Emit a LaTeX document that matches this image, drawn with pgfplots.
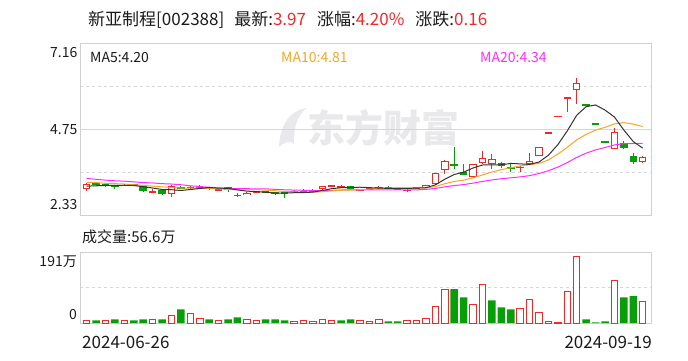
\documentclass[border=0pt]{standalone}
\usepackage{pgfplots}
\pgfplotsset{compat=1.18}
\usepackage{pgfplotstable}
\usepackage{fontspec}
\setmainfont{Noto Sans CJK SC}
\definecolor{kred}{HTML}{F02828}
\definecolor{kgreen}{HTML}{079E07}
\definecolor{ma5c}{HTML}{333333}
\definecolor{ma10c}{HTML}{F5A623}
\definecolor{ma20c}{HTML}{FF2CFF}
\definecolor{gridc}{HTML}{D6D6D6}
\definecolor{framec}{HTML}{CFCFD4}
\definecolor{txt}{HTML}{1A1A1A}
\definecolor{wm}{HTML}{E9E9EC}

\pgfplotstableread{
x o h l c
0 3.06 3.22 2.99 3.21
4 3.17 3.19 3.15 3.18
7 2.97 3.05 2.94 2.99
9 2.92 3.16 2.84 3.15
11 3.08 3.14 3.07 3.12
12 3.11 3.17 3.10 3.13
14 3.04 3.07 3.03 3.06
16 2.88 2.95 2.84 2.90
17 2.89 2.97 2.88 2.96
18 2.97 3.01 2.95 2.99
22 2.99 3.02 2.98 3.01
23 3.00 3.05 2.96 3.01
24 3.00 3.05 2.97 3.02
25 3.05 3.15 3.04 3.14
26 3.16 3.17 3.12 3.17
27 3.13 3.17 3.12 3.14
29 3.04 3.06 3.03 3.05
30 3.07 3.12 3.05 3.08
31 3.10 3.14 3.05 3.11
34 3.03 3.05 2.98 3.04
35 3.10 3.12 3.09 3.11
36 3.11 3.18 3.10 3.17
37 3.19 3.51 3.18 3.50
38 3.59 3.87 3.47 3.86
41 3.39 3.76 3.38 3.75
42 3.78 4.14 3.76 3.92
43 3.76 4.04 3.61 3.89
46 3.67 3.70 3.53 3.69
47 3.76 4.06 3.75 3.84
48 3.99 4.24 3.98 4.23
49 4.65 4.65 4.65 4.65
50 5.12 5.12 5.12 5.12
51 5.58 5.63 5.23 5.63
52 5.84 6.19 5.44 6.03
56 4.18 4.78 4.17 4.66
59 3.82 3.98 3.78 3.97
}\redk

\pgfplotstableread{
x o h l c
1 3.21 3.24 3.14 3.15
2 3.18 3.23 3.13 3.17
3 3.17 3.18 3.05 3.12
5 3.19 3.21 3.15 3.17
6 3.14 3.15 2.97 2.98
8 3.03 3.04 2.90 2.91
10 3.12 3.14 3.05 3.06
13 3.11 3.12 3.04 3.05
15 3.11 3.12 2.98 3.03
19 2.98 3.00 2.95 2.96
20 2.96 2.97 2.90 2.91
21 2.96 2.97 2.82 2.91
28 3.14 3.15 3.04 3.05
32 3.11 3.14 3.09 3.10
33 3.07 3.08 3.05 3.06
39 3.76 4.23 3.62 3.69
40 3.54 3.76 3.44 3.45
44 3.78 3.83 3.66 3.69
45 3.66 3.75 3.53 3.64
53 5.43 5.43 5.43 5.43
54 4.89 4.89 4.89 4.89
55 4.40 4.40 4.40 4.40
57 4.34 4.42 4.19 4.20
58 3.97 4.06 3.77 3.81
}\greenk

\pgfplotstableread{
x ma5 ma10 ma20
0 3.140 3.250 3.360
1 3.150 3.240 3.330
2 3.160 3.220 3.310
3 3.160 3.210 3.290
4 3.166 3.200 3.280
5 3.158 3.180 3.260
6 3.124 3.160 3.240
7 3.088 3.140 3.230
8 3.046 3.120 3.210
9 3.040 3.103 3.200
10 3.018 3.088 3.180
11 3.046 3.085 3.150
12 3.074 3.081 3.130
13 3.102 3.074 3.110
14 3.084 3.062 3.090
15 3.078 3.048 3.080
16 3.034 3.040 3.070
17 3.000 3.037 3.070
18 2.988 3.045 3.060
19 2.968 3.026 3.065
20 2.944 3.011 3.050
21 2.946 2.990 3.038
22 2.956 2.978 3.030
23 2.960 2.974 3.024
24 2.972 2.970 3.016
25 3.018 2.981 3.015
26 3.070 3.008 3.024
27 3.096 3.026 3.032
28 3.104 3.032 3.039
29 3.110 3.041 3.034
30 3.098 3.058 3.035
31 3.086 3.078 3.034
32 3.078 3.087 3.033
33 3.080 3.092 3.033
34 3.078 3.094 3.032
35 3.084 3.091 3.036
36 3.096 3.091 3.050
37 3.176 3.127 3.077
38 3.336 3.208 3.120
39 3.466 3.272 3.157
40 3.534 3.309 3.184
41 3.650 3.373 3.226
42 3.734 3.455 3.271
43 3.740 3.538 3.315
44 3.740 3.603 3.349
45 3.778 3.656 3.374
46 3.766 3.708 3.400
47 3.750 3.742 3.435
48 3.818 3.779 3.494
49 4.010 3.875 3.574
50 4.306 4.042 3.676
51 4.694 4.230 3.802
52 5.132 4.441 3.948
53 5.372 4.595 4.067
54 5.420 4.715 4.159
55 5.276 4.791 4.224
56 5.082 4.888 4.298
57 4.716 4.924 4.333
58 4.392 4.882 4.331
59 4.208 4.814 4.345
}\mas

\pgfplotstableread{
x v
0 7
2 7
4 7
7 10
9 20
11 26
12 12
14 7
17 10
18 7
22 4
23 7
24 4
25 10
26 7
29 7
30 4
31 9
34 6
35 6
36 12
37 44
38 90
41 49
42 104
46 39
47 63
48 29
49 4.5
50 2
51 85
52 179
56 115
59 56.6
}\volred

\pgfplotstableread{
x v
1 7
3 10
5 7
6 10
8 10
10 37
13 10
15 10
16 15
19 10
20 10
21 7
27 7
28 10
32 4.5
33 4.5
39 91
40 69
43 61
44 42
45 37
53 10
54 2
55 4.5
57 69
58 72
}\volgreen

\pgfplotsset{
  candle/.style={only marks, mark=none, mark size=0pt, mark options={draw=none, fill=none},
    error bars/.cd, y dir=minus, y explicit, error mark=none},
}

\begin{document}
\begin{tikzpicture}
\useasboundingbox (0,0) rectangle (688pt,360pt);
% watermark (logo mark + name)
\fill[wm] (279pt,213pt) .. controls (280pt,236pt) and (290pt,249pt) .. (306pt,252pt)
  .. controls (297pt,243pt) and (293pt,231pt) .. (294pt,216pt)
  .. controls (290pt,220pt) and (285pt,218pt) .. cycle;
\node[anchor=center, text=wm, font=\fontsize{38}{38}\selectfont\bfseries] at (383pt,232pt) {东方财富};

\begin{axis}[
  at={(80pt,145pt)}, anchor=south west,
  width=571pt, height=172pt, scale only axis,
  xmin=-0.71, xmax=59.88, ymin=2.33, ymax=7.16,
  axis line style={framec},
  xtick=\empty,
  ytick={3.5375,5.9525}, yticklabels={},
  extra y ticks={4.745}, extra y tick labels={},
  extra y tick style={grid style={solid, gridc, line width=1pt}},
  ymajorgrids, grid style={dashed, gridc, line width=0.8pt},
  major tick length=0pt,
]
% red wicks
\addplot[candle, error bar style={kred, line width=1pt}]
  table[x=x, y=h, y error expr=\thisrow{h}-\thisrow{l}] {\redk};
% red bodies (outer)
\addplot[candle, error bar style={kred, line width=7.5pt}]
  table[x=x, y=c, y error expr={max(\thisrow{c}-\thisrow{o},0.045)}] {\redk};
% red bodies (hollow inside)
\addplot[candle, error bar style={white, line width=5.5pt}]
  table[x=x, y expr=\thisrow{c}-0.028, y error expr={max(\thisrow{c}-\thisrow{o}-0.056,0)}] {\redk};
% green wicks
\addplot[candle, error bar style={kgreen, line width=1pt}]
  table[x=x, y=h, y error expr=\thisrow{h}-\thisrow{l}] {\greenk};
% green bodies
\addplot[candle, error bar style={kgreen, line width=7.5pt}]
  table[x=x, y expr=\thisrow{o}+0.01, y error expr={max(\thisrow{o}-\thisrow{c},0.045)}] {\greenk};
% moving averages
\addplot[ma20c, line width=1pt, mark=none] table[x=x, y=ma20] {\mas};
\addplot[ma10c, line width=1pt, mark=none] table[x=x, y=ma10] {\mas};
\addplot[ma5c, line width=1pt, mark=none] table[x=x, y=ma5] {\mas};
\end{axis}

\begin{axis}[
  at={(80pt,37pt)}, anchor=south west,
  width=571pt, height=71pt, scale only axis,
  xmin=-0.71, xmax=59.88, ymin=0, ymax=191,
  axis line style={framec},
  xtick=\empty,
  ytick={95.5}, yticklabels={},
  ymajorgrids, grid style={dashed, gridc, line width=0.8pt},
  major tick length=0pt,
]
\addplot[ybar, bar width=6.5pt, bar shift=0pt, draw=kred, fill=white, line width=1pt] table[x=x, y=v] {\volred};
\addplot[ybar, bar width=7.5pt, bar shift=0pt, draw=none, fill=kgreen] table[x=x, y=v] {\volgreen};
\end{axis}

% title
\node[anchor=west, text=txt, font=\fontsize{17}{17}\selectfont, inner sep=0pt] at (88pt,340pt)
  {新亚制程[002388]\hspace{10pt}最新:\textcolor{kred}{3.97}\hspace{11pt}涨幅:\textcolor{kred}{4.20\%}\hspace{11pt}涨跌:\textcolor{kred}{0.16}};
% MA legend
\node[anchor=west, text=txt, font=\fontsize{14}{14}\selectfont, inner sep=0pt] at (90pt,303pt) {MA5:4.20};
\node[anchor=west, text=ma10c, font=\fontsize{14}{14}\selectfont, inner sep=0pt] at (281pt,303pt) {MA10:4.81};
\node[anchor=west, text=ma20c, font=\fontsize{14}{14}\selectfont, inner sep=0pt] at (480pt,303pt) {MA20:4.34};
% y labels main
\node[anchor=east, text=txt, font=\fontsize{14}{14}\selectfont, inner sep=0pt] at (77.5pt,307pt) {7.16};
\node[anchor=east, text=txt, font=\fontsize{14}{14}\selectfont, inner sep=0pt] at (77.5pt,230.7pt) {4.75};
\node[anchor=east, text=txt, font=\fontsize{14}{14}\selectfont, inner sep=0pt] at (77.5pt,155pt) {2.33};
% volume caption and labels
\node[anchor=west, text=txt, font=\fontsize{15}{15}\selectfont, inner sep=0pt] at (82pt,123pt) {成交量:56.6万};
\node[anchor=east, text=txt, font=\fontsize{14}{14}\selectfont, inner sep=0pt] at (77pt,98.3pt) {191万};
\node[anchor=east, text=txt, font=\fontsize{14}{14}\selectfont, inner sep=0pt] at (77pt,45pt) {0};
% dates
\node[anchor=west, text=txt, font=\fontsize{17}{17}\selectfont, inner sep=0pt] at (82pt,18pt) {2024-06-26};
\node[anchor=east, text=txt, font=\fontsize{17}{17}\selectfont, inner sep=0pt] at (652pt,18pt) {2024-09-19};
\end{tikzpicture}
\end{document}
